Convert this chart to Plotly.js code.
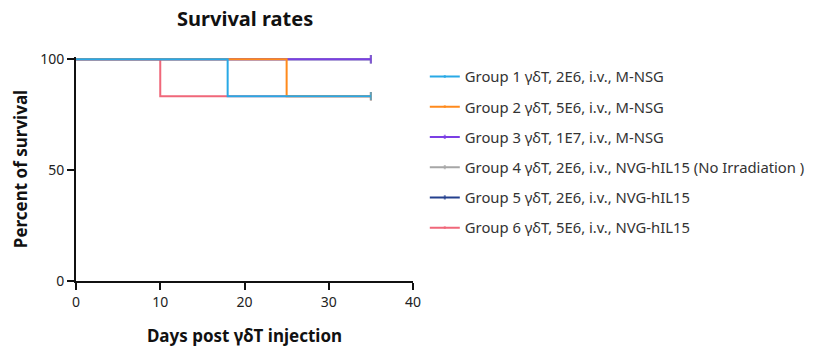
<!DOCTYPE html>
<html><head><meta charset="utf-8">
<script src="https://cdn.plot.ly/plotly-3.0.1.min.js"></script>
<style>html,body{margin:0;padding:0;background:#fff}#chart{width:831px;height:356px}</style>
</head><body><div id="chart"></div>
<script>
const groupNames = [
  "Group 1 γδT, 2E6, i.v., M-NSG",
  "Group 2 γδT, 5E6, i.v., M-NSG",
  "Group 3 γδT, 1E7, i.v., M-NSG",
  "Group 4 γδT, 2E6, i.v., NVG-hIL15 (No Irradiation )",
  "Group 5 γδT, 2E6, i.v., NVG-hIL15",
  "Group 6 γδT, 5E6, i.v., NVG-hIL15"
];
const g1Days = [0, 18, 35];      const g1Surv = [100, 83.33, 83.33];
const g2Days = [0, 25, 35];      const g2Surv = [100, 83.33, 83.33];
const g3Days = [0, 35];          const g3Surv = [100, 100];
const g4Days = [0, 35];          const g4Surv = [100, 100];
const g5Days = [0, 35];          const g5Surv = [100, 100];
const g6Days = [0, 10, 35];      const g6Surv = [100, 83.33, 83.33];
const colors = ["#29a9e6", "#ff8a1c", "#7b3fe4", "#a6a6a6", "#24408e", "#f0677a"];

const series = [[g1Days,g1Surv],[g2Days,g2Surv],[g3Days,g3Surv],[g4Days,g4Surv],[g5Days,g5Surv],[g6Days,g6Surv]];
const traces = [];
for (let i = series.length - 1; i >= 0; i--) {
  const [x, y] = series[i];
  traces.push({
    x: x, y: y, name: groupNames[i], type: 'scatter', mode: 'lines+markers',
    line: {shape: 'hv', color: colors[i], width: 2},
    marker: {symbol: 'line-ns-open', size: x.map((_, k) => k === x.length - 1 ? 6 : 0), line: {color: colors[i], width: 2}},
    legendgroup: 'g' + i, legendrank: i + 1, cliponaxis: false
  });
}
const font = "Noto Sans, sans-serif";
const layout = {
  width: 831, height: 356,
  margin: {l: 76, r: 418, t: 57, b: 75},
  paper_bgcolor: '#fff', plot_bgcolor: '#fff',
  font: {family: font, color: '#222', size: 14},
  title: {text: '<b>Survival rates</b>', x: 0.295, xanchor: 'center', y: 0.965, yanchor: 'top', font: {size: 20, color: '#111', family: font}},
  xaxis: {range: [0, 40], tickvals: [0,10,20,30,40], showgrid: false, zeroline: false, showline: true, linecolor: '#111', linewidth: 2,
          ticks: 'outside', ticklen: 7, tickwidth: 2, tickcolor: '#111', tickfont: {size: 14, color: '#222'},
          title: {text: '<b>Days post γδT injection</b>', font: {size: 17, color: '#111'}, standoff: 20}},
  yaxis: {range: [0, 101], tickvals: [0,50,100], showgrid: false, zeroline: false, showline: true, linecolor: '#111', linewidth: 2,
          ticks: 'outside', ticklen: 7, tickwidth: 2, tickcolor: '#111', tickfont: {size: 14, color: '#222'},
          title: {text: '<b>Percent of survival</b>', font: {size: 17, color: '#111'}, standoff: 8}},
  legend: {x: 1.035, y: 0.985, xanchor: 'left', yanchor: 'top', traceorder: 'grouped', tracegroupgap: 8,
           font: {size: 14.8, color: '#333'}, bgcolor: 'rgba(0,0,0,0)'},
  showlegend: true
};
Plotly.newPlot('chart', traces, layout, {displayModeBar: false, staticPlot: true});
</script></body></html>
